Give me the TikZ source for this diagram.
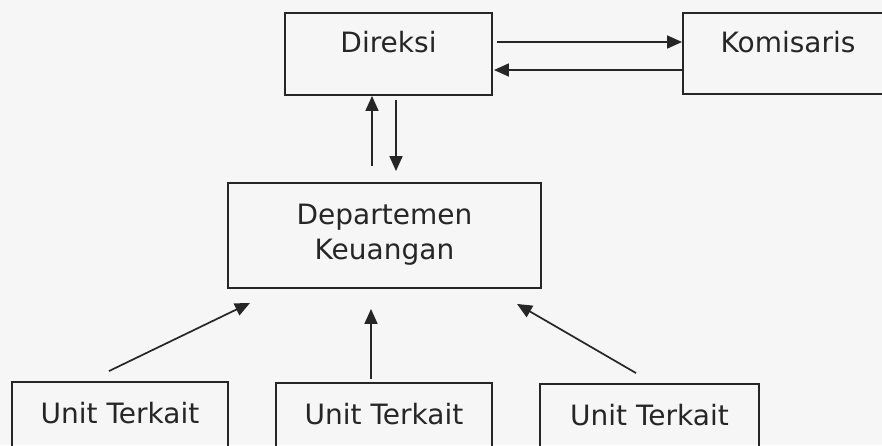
\documentclass[tikz,border=0pt]{standalone}
\usepackage{fontspec}
\setmainfont{DejaVu Sans}
\usetikzlibrary{arrows.meta,calc}
\definecolor{ink}{HTML}{262626}
\definecolor{paper}{HTML}{F6F6F6}
\begin{document}
\begin{tikzpicture}[x=1pt,y=-1pt,
  box/.style={draw=ink, line width=1.9pt, text=ink, inner sep=0pt,
    text height=0pt, text depth=0pt, font=\fontsize{28}{35}\selectfont},
  arr/.style={draw=ink, line width=1.7pt, -{Triangle[length=15pt,width=13pt]}}]
\fill[paper] (0,0) rectangle (882,445);
\useasboundingbox (0,0) rectangle (882,445);
\clip (0,0) rectangle (882,445);
% boxes
\node[box, minimum width=207pt, minimum height=82pt] (dir) at (388.5,54) {\raisebox{2pt}{Direksi}};
\node[box, minimum width=210pt, minimum height=81pt] (kom) at (788,53.5) {\raisebox{1.5pt}{Komisaris}};
\node[box, minimum width=313pt, minimum height=105pt] (dep) at (384.5,235.5)
  {\raisebox{-23.5pt}{\begin{tabular}[b]{@{}c@{}}Departemen\\Keuangan\end{tabular}}};
\node[box, minimum width=216pt, minimum height=88pt] (u1) at (120,426) {\raisebox{3pt}{Unit Terkait}};
\node[box, minimum width=216pt, minimum height=88pt] (u2) at (384,427) {\raisebox{3pt}{Unit Terkait}};
\node[box, minimum width=219pt, minimum height=88pt] (u3) at (649.5,428) {\raisebox{3pt}{Unit Terkait}};
% Direksi <-> Komisaris
\draw[arr, shorten <=4pt] ([yshift=12pt]dir.east) -- ([yshift=11.5pt]kom.west);
\draw[arr, shorten >=1pt] ([yshift=-16.5pt]kom.west) -- ([yshift=-16pt]dir.east);
% Departemen <-> Direksi
\draw[arr, shorten <=16pt] ([xshift=-12.5pt]dep.north) -- ([xshift=-16.5pt]dir.south);
\draw[arr, shorten <=4pt, shorten >=11pt] ([xshift=7.5pt]dir.south) -- ([xshift=11.5pt]dep.north);
% Units -> Departemen
\draw[arr] ($(u1.north)+(-11,-10)$) -- ($(dep.south)+(-134.5,14)$);
\draw[arr] ($(u2.north)+(-13,-3)$) -- ($(dep.south)+(-13.5,20)$);
\draw[arr] ($(u3.north)+(-13.5,-10)$) -- ($(dep.south)+(132.5,15)$);
\end{tikzpicture}
\end{document}
